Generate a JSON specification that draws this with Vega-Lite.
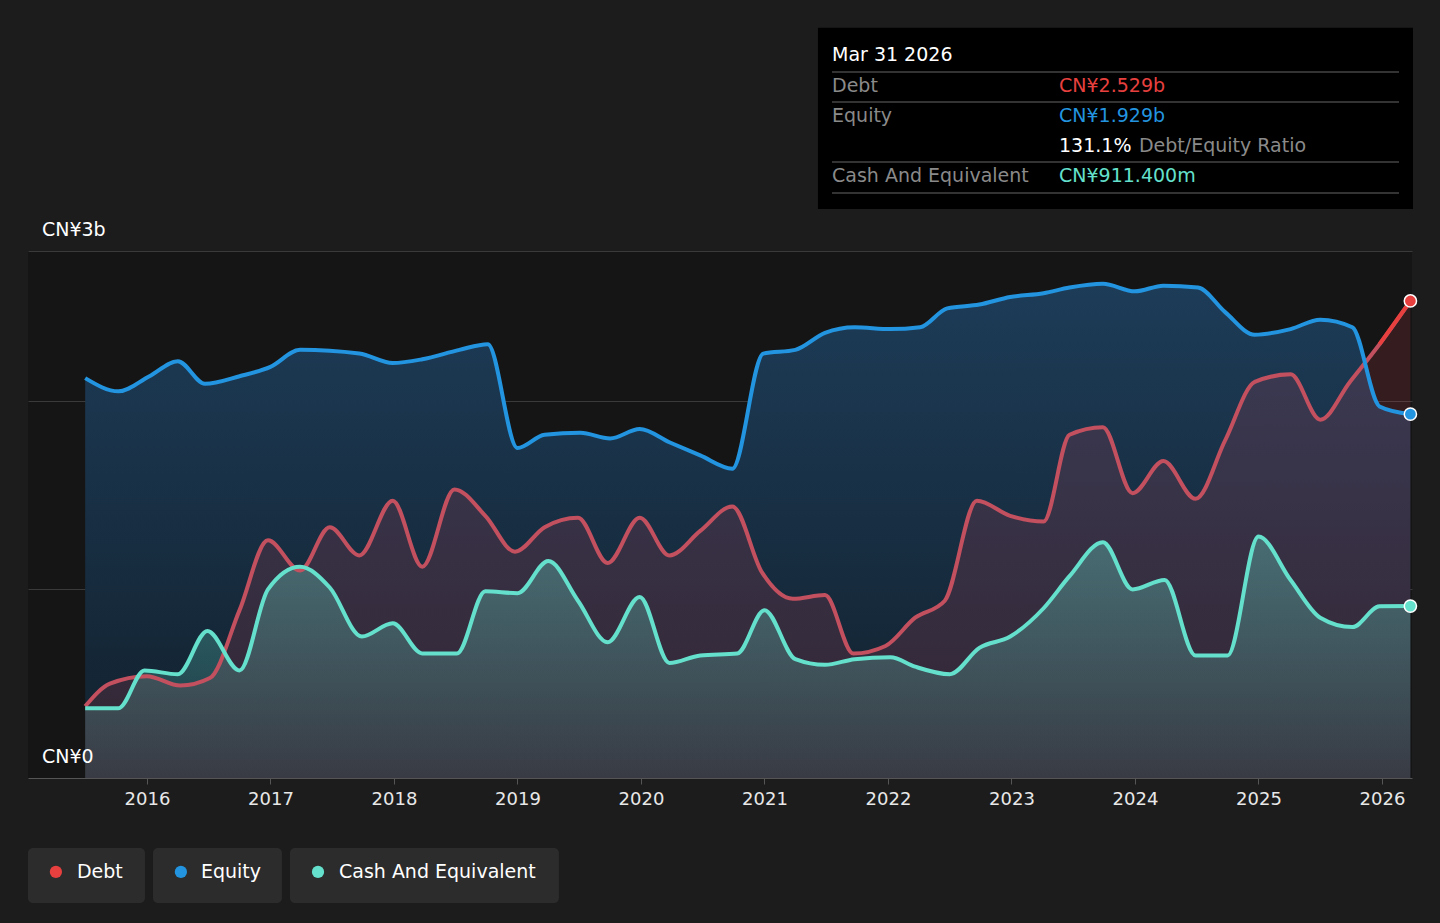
{
  "$schema": "https://vega.github.io/schema/vega-lite/v6.json",
  "width": 1384,
  "height": 527,
  "autosize": "none",
  "padding": {"left": 28, "top": 251, "right": 28, "bottom": 145},
  "background": "#1c1c1c",
  "config": {
    "view": {"fill": "#151515", "stroke": null},
    "font": "DejaVu Sans"
  },
  "datasets": {
    "series": [
      {"year": 15.50, "series": "Debt", "value": 0.38}, {"year": 15.70, "series": "Debt", "value": 0.50}, {"year": 16.00, "series": "Debt", "value": 0.54}, {"year": 16.27, "series": "Debt", "value": 0.49}, {"year": 16.51, "series": "Debt", "value": 0.53}, {"year": 16.75, "series": "Debt", "value": 0.89}, {"year": 16.98, "series": "Debt", "value": 1.26}, {"year": 17.24, "series": "Debt", "value": 1.10}, {"year": 17.48, "series": "Debt", "value": 1.33}, {"year": 17.72, "series": "Debt", "value": 1.18}, {"year": 17.99, "series": "Debt", "value": 1.47}, {"year": 18.23, "series": "Debt", "value": 1.12}, {"year": 18.49, "series": "Debt", "value": 1.53}, {"year": 18.74, "series": "Debt", "value": 1.39}, {"year": 18.98, "series": "Debt", "value": 1.20}, {"year": 19.22, "series": "Debt", "value": 1.33}, {"year": 19.49, "series": "Debt", "value": 1.38}, {"year": 19.73, "series": "Debt", "value": 1.14}, {"year": 19.99, "series": "Debt", "value": 1.38}, {"year": 20.23, "series": "Debt", "value": 1.18}, {"year": 20.48, "series": "Debt", "value": 1.31}, {"year": 20.74, "series": "Debt", "value": 1.44}, {"year": 20.98, "series": "Debt", "value": 1.09}, {"year": 21.23, "series": "Debt", "value": 0.95}, {"year": 21.49, "series": "Debt", "value": 0.97}, {"year": 21.72, "series": "Debt", "value": 0.66}, {"year": 21.98, "series": "Debt", "value": 0.70}, {"year": 22.22, "series": "Debt", "value": 0.85}, {"year": 22.46, "series": "Debt", "value": 0.94}, {"year": 22.72, "series": "Debt", "value": 1.47}, {"year": 22.99, "series": "Debt", "value": 1.39}, {"year": 23.26, "series": "Debt", "value": 1.36}, {"year": 23.47, "series": "Debt", "value": 1.82}, {"year": 23.74, "series": "Debt", "value": 1.86}, {"year": 23.98, "series": "Debt", "value": 1.51}, {"year": 24.23, "series": "Debt", "value": 1.68}, {"year": 24.49, "series": "Debt", "value": 1.48}, {"year": 24.73, "series": "Debt", "value": 1.79}, {"year": 24.97, "series": "Debt", "value": 2.10}, {"year": 25.26, "series": "Debt", "value": 2.14}, {"year": 25.50, "series": "Debt", "value": 1.90}, {"year": 25.74, "series": "Debt", "value": 2.10}, {"year": 25.98, "series": "Debt", "value": 2.30}, {"year": 26.23, "series": "Debt", "value": 2.529},
      {"year": 15.50, "series": "Equity", "value": 2.12}, {"year": 15.77, "series": "Equity", "value": 2.05}, {"year": 16.02, "series": "Equity", "value": 2.13}, {"year": 16.25, "series": "Equity", "value": 2.21}, {"year": 16.47, "series": "Equity", "value": 2.09}, {"year": 16.75, "series": "Equity", "value": 2.13}, {"year": 17.00, "series": "Equity", "value": 2.18}, {"year": 17.24, "series": "Equity", "value": 2.27}, {"year": 17.72, "series": "Equity", "value": 2.25}, {"year": 17.99, "series": "Equity", "value": 2.20}, {"year": 18.23, "series": "Equity", "value": 2.22}, {"year": 18.53, "series": "Equity", "value": 2.27}, {"year": 18.76, "series": "Equity", "value": 2.30}, {"year": 19.00, "series": "Equity", "value": 1.75}, {"year": 19.22, "series": "Equity", "value": 1.82}, {"year": 19.51, "series": "Equity", "value": 1.83}, {"year": 19.75, "series": "Equity", "value": 1.80}, {"year": 19.99, "series": "Equity", "value": 1.85}, {"year": 20.23, "series": "Equity", "value": 1.78}, {"year": 20.48, "series": "Equity", "value": 1.71}, {"year": 20.74, "series": "Equity", "value": 1.64}, {"year": 20.99, "series": "Equity", "value": 2.25}, {"year": 21.25, "series": "Equity", "value": 2.27}, {"year": 21.49, "series": "Equity", "value": 2.36}, {"year": 21.73, "series": "Equity", "value": 2.39}, {"year": 22.02, "series": "Equity", "value": 2.38}, {"year": 22.26, "series": "Equity", "value": 2.39}, {"year": 22.48, "series": "Equity", "value": 2.49}, {"year": 22.74, "series": "Equity", "value": 2.51}, {"year": 22.99, "series": "Equity", "value": 2.55}, {"year": 23.26, "series": "Equity", "value": 2.57}, {"year": 23.47, "series": "Equity", "value": 2.60}, {"year": 23.74, "series": "Equity", "value": 2.62}, {"year": 24.00, "series": "Equity", "value": 2.58}, {"year": 24.23, "series": "Equity", "value": 2.61}, {"year": 24.51, "series": "Equity", "value": 2.60}, {"year": 24.73, "series": "Equity", "value": 2.47}, {"year": 24.97, "series": "Equity", "value": 2.35}, {"year": 25.26, "series": "Equity", "value": 2.38}, {"year": 25.50, "series": "Equity", "value": 2.43}, {"year": 25.76, "series": "Equity", "value": 2.39}, {"year": 25.98, "series": "Equity", "value": 1.97}, {"year": 26.23, "series": "Equity", "value": 1.929},
      {"year": 15.50, "series": "Cash", "value": 0.37}, {"year": 15.77, "series": "Cash", "value": 0.37}, {"year": 15.98, "series": "Cash", "value": 0.57}, {"year": 16.25, "series": "Cash", "value": 0.55}, {"year": 16.49, "series": "Cash", "value": 0.78}, {"year": 16.75, "series": "Cash", "value": 0.57}, {"year": 16.98, "series": "Cash", "value": 1.00}, {"year": 17.24, "series": "Cash", "value": 1.12}, {"year": 17.48, "series": "Cash", "value": 1.01}, {"year": 17.74, "series": "Cash", "value": 0.75}, {"year": 17.99, "series": "Cash", "value": 0.82}, {"year": 18.23, "series": "Cash", "value": 0.66}, {"year": 18.51, "series": "Cash", "value": 0.66}, {"year": 18.74, "series": "Cash", "value": 0.99}, {"year": 19.00, "series": "Cash", "value": 0.98}, {"year": 19.25, "series": "Cash", "value": 1.15}, {"year": 19.49, "series": "Cash", "value": 0.94}, {"year": 19.73, "series": "Cash", "value": 0.72}, {"year": 19.99, "series": "Cash", "value": 0.96}, {"year": 20.23, "series": "Cash", "value": 0.61}, {"year": 20.48, "series": "Cash", "value": 0.65}, {"year": 20.78, "series": "Cash", "value": 0.66}, {"year": 21.00, "series": "Cash", "value": 0.89}, {"year": 21.25, "series": "Cash", "value": 0.63}, {"year": 21.49, "series": "Cash", "value": 0.60}, {"year": 21.73, "series": "Cash", "value": 0.63}, {"year": 22.02, "series": "Cash", "value": 0.64}, {"year": 22.22, "series": "Cash", "value": 0.59}, {"year": 22.50, "series": "Cash", "value": 0.55}, {"year": 22.74, "series": "Cash", "value": 0.69}, {"year": 22.99, "series": "Cash", "value": 0.75}, {"year": 23.26, "series": "Cash", "value": 0.90}, {"year": 23.47, "series": "Cash", "value": 1.07}, {"year": 23.74, "series": "Cash", "value": 1.25}, {"year": 23.98, "series": "Cash", "value": 1.00}, {"year": 24.24, "series": "Cash", "value": 1.05}, {"year": 24.49, "series": "Cash", "value": 0.65}, {"year": 24.75, "series": "Cash", "value": 0.65}, {"year": 25.00, "series": "Cash", "value": 1.28}, {"year": 25.26, "series": "Cash", "value": 1.05}, {"year": 25.50, "series": "Cash", "value": 0.85}, {"year": 25.76, "series": "Cash", "value": 0.80}, {"year": 25.98, "series": "Cash", "value": 0.91}, {"year": 26.23, "series": "Cash", "value": 0.9114}
    ],
    "labels": [
      {"x": 15.150, "y": 2.906, "t": "CN¥3b", "k": "white"},
      {"x": 15.150, "y": 0.111, "t": "CN¥0", "k": "white"},
      {"x": 21.547, "y": 3.834, "t": "Mar 31 2026", "k": "white"},
      {"x": 21.547, "y": 3.669, "t": "Debt", "k": "grey"},
      {"x": 21.547, "y": 3.510, "t": "Equity", "k": "grey"},
      {"x": 21.547, "y": 3.192, "t": "Cash And Equivalent", "k": "grey"},
      {"x": 23.385, "y": 3.669, "t": "CN¥2.529b", "k": "Debt"},
      {"x": 23.385, "y": 3.510, "t": "CN¥1.929b", "k": "Equity"},
      {"x": 23.385, "y": 3.351, "t": "131.1%", "k": "white"},
      {"x": 24.032, "y": 3.351, "t": "Debt/Equity Ratio", "k": "grey"},
      {"x": 23.385, "y": 3.192, "t": "CN¥911.400m", "k": "Cash"},
      {"x": 15.433, "y": -0.498, "t": "Debt", "k": "white"},
      {"x": 16.437, "y": -0.498, "t": "Equity", "k": "white"},
      {"x": 17.555, "y": -0.498, "t": "Cash And Equivalent", "k": "white"}
    ]
  },
  "layer": [
    {"data": {"name": "series"}, "transform": [{"filter": "datum.series == 'Equity'"}],
      "mark": {"type": "area", "interpolate": "monotone", "color": {"x1": 0, "y1": 0, "x2": 0, "y2": 1, "gradient": "linear", "stops": [{"offset": 0, "color": "#1d3c58"}, {"offset": 1, "color": "#12202c"}]}},
      "encoding": {
        "x": {"field": "year", "type": "quantitative", "scale": {"domain": [15.037, 26.243], "nice": false, "zero": false},
          "axis": {"values": [16, 17, 18, 19, 20, 21, 22, 23, 24, 25, 26], "labelExpr": "'20' + datum.value", "title": null, "grid": false, "domainColor": "#555", "tickColor": "#555", "tickSize": 6, "labelColor": "#e8e8e8", "labelFontSize": 18, "labelPadding": 6}},
        "y": {"field": "value", "type": "quantitative", "scale": {"domain": [0, 2.794], "nice": false, "zero": true},
          "axis": {"values": [1, 2, 2.794], "labels": false, "ticks": false, "domain": false, "title": null, "gridColor": "#3a3a3a", "gridWidth": 1}}
      }},
    {"data": {"name": "series"}, "transform": [{"filter": "datum.series == 'Debt'"}], "mark": {"type": "area", "interpolate": "monotone", "color": "#e0475a", "opacity": 0.16},
      "encoding": {"x": {"field": "year", "type": "quantitative"}, "y": {"field": "value", "type": "quantitative"}}},
    {"data": {"name": "series"}, "transform": [{"filter": "datum.series == 'Cash'"}], "mark": {"type": "area", "interpolate": "monotone", "color": {"x1": 0, "y1": 0, "x2": 0, "y2": 1, "gradient": "linear", "stops": [{"offset": 0, "color": "rgba(100,220,200,0.35)"}, {"offset": 1, "color": "rgba(100,220,200,0.12)"}]}},
      "encoding": {"x": {"field": "year", "type": "quantitative"}, "y": {"field": "value", "type": "quantitative"}}},
    {"data": {"name": "series"}, "mark": {"type": "line", "interpolate": "monotone", "strokeWidth": 4},
      "encoding": {"x": {"field": "year", "type": "quantitative"}, "y": {"field": "value", "type": "quantitative"},
        "stroke": {"field": "series", "type": "nominal", "legend": null, "scale": {"domain": ["Debt", "Equity", "Cash"], "range": ["#c2505f", "#2394df", "#64e0cc"]}}}},
    {"data": {"name": "series"}, "transform": [{"filter": "datum.series == 'Debt' && datum.year >= 25.98"}], "mark": {"type": "line", "interpolate": "monotone", "strokeWidth": 4, "color": "#e8403f"},
      "encoding": {"x": {"field": "year", "type": "quantitative"}, "y": {"field": "value", "type": "quantitative"}}},
    {"data": {"name": "series"}, "transform": [{"filter": "datum.year > 26.2"}], "mark": {"type": "point", "filled": true, "size": 150, "stroke": "#ffffff", "strokeWidth": 1.5, "opacity": 1},
      "encoding": {"x": {"field": "year", "type": "quantitative"}, "y": {"field": "value", "type": "quantitative"},
        "fill": {"field": "series", "type": "nominal", "legend": null, "scale": {"domain": ["Debt", "Equity", "Cash"], "range": ["#e8403f", "#2394df", "#64e0cc"]}}}},
    {"data": {"values": [{"a": 21.433, "b": 26.251, "c": 3.977, "d": 3.017}]}, "mark": {"type": "rect", "color": "#000000"},
      "encoding": {"x": {"field": "a", "type": "quantitative"}, "x2": {"field": "b"}, "y": {"field": "c", "type": "quantitative"}, "y2": {"field": "d"}}},
    {"data": {"values": [{"a": 21.547, "b": 26.138, "y": 3.743}, {"a": 21.547, "b": 26.138, "y": 3.584}, {"a": 21.547, "b": 26.138, "y": 3.266}, {"a": 21.547, "b": 26.138, "y": 3.102}]}, "mark": {"type": "rule", "color": "#444", "strokeWidth": 1.5},
      "encoding": {"x": {"field": "a", "type": "quantitative"}, "x2": {"field": "b"}, "y": {"field": "y", "type": "quantitative"}}},
    {"data": {"values": [{"a": 15.037, "b": 15.984, "c": -0.371, "d": -0.663}, {"a": 16.049, "b": 17.093, "c": -0.371, "d": -0.663}, {"a": 17.158, "b": 19.336, "c": -0.371, "d": -0.663}]}, "mark": {"type": "rect", "color": "#2c2c2c", "cornerRadius": 5},
      "encoding": {"x": {"field": "a", "type": "quantitative"}, "x2": {"field": "b"}, "y": {"field": "c", "type": "quantitative"}, "y2": {"field": "d"}}},
    {"data": {"values": [{"x": 15.263, "y": -0.498, "series": "Debt"}, {"x": 16.275, "y": -0.498, "series": "Equity"}, {"x": 17.385, "y": -0.498, "series": "Cash"}]}, "mark": {"type": "circle", "size": 150, "opacity": 1},
      "encoding": {"x": {"field": "x", "type": "quantitative"}, "y": {"field": "y", "type": "quantitative"},
        "fill": {"field": "series", "type": "nominal", "legend": null}}},
    {"data": {"name": "labels"}, "mark": {"type": "text", "baseline": "middle", "align": "left", "fontSize": 19},
      "encoding": {"x": {"field": "x", "type": "quantitative"}, "y": {"field": "y", "type": "quantitative"}, "text": {"field": "t"},
        "color": {"field": "k", "type": "nominal", "legend": null, "scale": {"domain": ["white", "grey", "Debt", "Equity", "Cash"], "range": ["#ffffff", "#8a8a8a", "#e8403f", "#2394df", "#64e0cc"]}}}}
  ]
}
